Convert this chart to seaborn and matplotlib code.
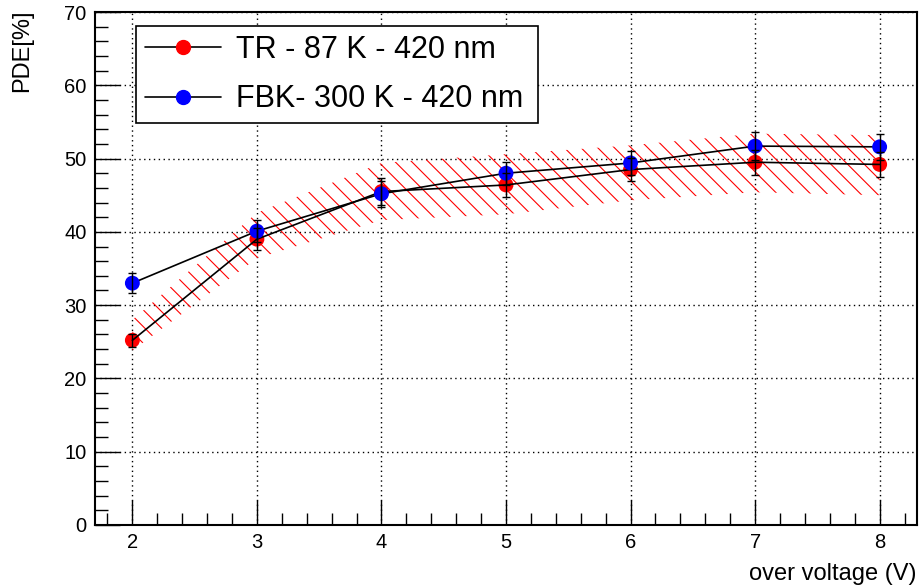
import numpy as np
import pandas as pd
import matplotlib
matplotlib.use("Agg")
import matplotlib.pyplot as plt
from matplotlib.lines import Line2D
import seaborn as sns

# ---- data ----
over_voltage = [2, 3, 4, 5, 6, 7, 8]
tr_pde = [25.2, 39.0, 45.5, 46.4, 48.5, 49.5, 49.2]
tr_err = [0.9, 1.5, 1.8, 1.6, 1.6, 1.7, 1.7]
fbk_pde = [33.0, 40.1, 45.2, 48.0, 49.4, 51.7, 51.6]
fbk_err = [1.4, 1.5, 1.8, 1.6, 1.7, 1.9, 1.8]
band_low = [23.8, 36.4, 41.6, 42.4, 44.3, 45.4, 45.0]
band_high = [28.0, 42.6, 49.4, 50.6, 51.8, 53.4, 53.2]
labels = ["TR - 87 K - 420 nm", "FBK- 300 K - 420 nm"]
x_ticks = [2, 3, 4, 5, 6, 7, 8]
y_ticks = [0, 10, 20, 30, 40, 50, 60, 70]

sns.set_theme(style="white")
plt.rcParams['font.family'] = ['Liberation Sans', 'DejaVu Sans']
plt.rcParams['hatch.linewidth'] = 0.8
plt.rcParams['hatch.color'] = 'red'
for key in ['text.color', 'axes.labelcolor', 'xtick.color', 'ytick.color',
            'axes.edgecolor']:
    plt.rcParams[key] = 'black'

df = pd.DataFrame({
    "v": over_voltage * 2,
    "pde": tr_pde + fbk_pde,
    "series": [labels[0]] * 7 + [labels[1]] * 7,
})

fig = plt.figure(figsize=(9.2, 5.85), dpi=100)
ax = fig.add_axes([95 / 920, 1 - 525 / 585, 822 / 920, 513 / 585])
ax.set_facecolor("white")

# band
ax.fill_between(over_voltage, band_low, band_high, facecolor="none",
                edgecolor="red", hatch="\\\\", linewidth=0, zorder=1)

# red markers
sns.scatterplot(data=df[df.series == labels[0]], x="v", y="pde", color="red",
                s=115, edgecolor="none", ax=ax, zorder=3, legend=False)
# black lines
sns.lineplot(data=df, x="v", y="pde", units="series", estimator=None,
             color="black", linewidth=1.2, sort=False, ax=ax, zorder=4,
             legend=False)
# blue markers
sns.scatterplot(data=df[df.series == labels[1]], x="v", y="pde", color="blue",
                s=115, edgecolor="none", ax=ax, zorder=5, legend=False)
# error bars
ax.errorbar(over_voltage, tr_pde, yerr=tr_err, fmt="none", ecolor="black",
            elinewidth=1, capsize=3, capthick=1, zorder=6)
ax.errorbar(over_voltage, fbk_pde, yerr=fbk_err, fmt="none", ecolor="black",
            elinewidth=1, capsize=3, capthick=1, zorder=6)

ax.set_xlim(1.7, 8.3)
ax.set_ylim(0, 70)
ax.set_xticks(x_ticks)
ax.set_yticks(y_ticks)
ax.set_xticks(np.arange(1.8, 8.3, 0.2), minor=True)
ax.set_yticks(np.arange(0, 70.1, 2), minor=True)
ax.tick_params(axis="both", which="major", direction="in", length=18,
               width=1, labelsize=14.5, color="black", labelcolor="black",
               bottom=True, left=True, top=False, right=False, pad=6)
ax.tick_params(axis="both", which="minor", direction="in", length=9,
               width=1, color="black", bottom=True, left=True,
               top=False, right=False)
ax.grid(True, which="major", color="black", linestyle=(0, (1, 2.5)),
        linewidth=1.0)
for s in ax.spines.values():
    s.set_color("black")
    s.set_linewidth(1.5)
    s.set_visible(True)

ax.set_xlabel("")
ax.set_ylabel("")
fig.text(917 / 920, 1 - 580 / 585, "over voltage (V)", ha="right",
         va="baseline", fontsize=17, color="black")
fig.text(33 / 920, 1 - 10 / 585, "PDE[%]", ha="right", va="top",
         rotation=90, fontsize=17, color="black")

handles = [
    Line2D([], [], color="black", linewidth=1.2, marker="o",
           markerfacecolor="red", markeredgecolor="red", markersize=10),
    Line2D([], [], color="black", linewidth=1.2, marker="o",
           markerfacecolor="blue", markeredgecolor="blue", markersize=10),
]
leg = fig.legend(handles, labels, loc="upper left",
                 bbox_to_anchor=(136 / 920, 1 - 123 / 585, 402 / 920, 97 / 585),
                 mode="expand",
                 borderaxespad=0, fontsize=22, frameon=True, fancybox=False,
                 edgecolor="black", framealpha=1, handlelength=2.5,
                 handletextpad=0.5, borderpad=0.28, labelspacing=0.65)
leg.get_frame().set_linewidth(1.2)
leg.set_zorder(10)
for t in leg.get_texts():
    t.set_color("black")

fig.savefig("out.png", dpi=100, facecolor="white")
